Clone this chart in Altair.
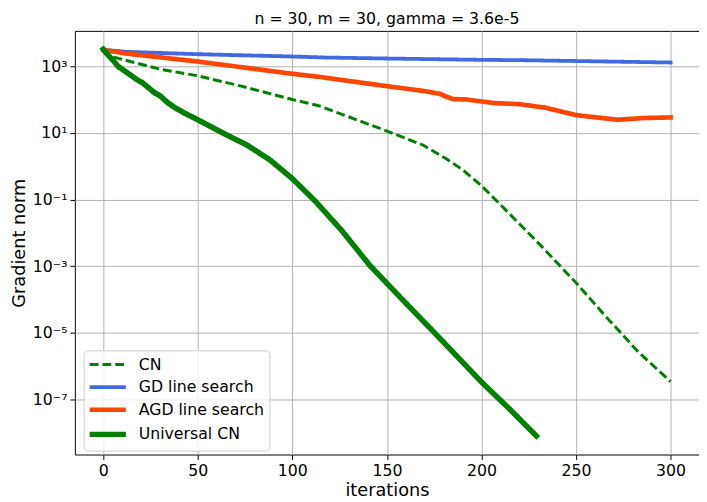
import altair as alt
import pandas as pd

# ---- data ----
cn_iter = [0, 3, 8, 30, 50, 73, 100, 114, 150, 169, 181, 190, 200, 214, 231, 250, 266, 283, 300]
cn_norm = [3162, 2138, 1758, 832, 525, 257, 102, 66.1, 11.5, 4.37, 1.74, 0.794, 0.263,
           0.0417, 4.37e-3, 3.16e-4, 2.95e-5, 2.63e-6, 3.39e-7]

gd_iter = [0, 12, 50, 100, 117, 150, 200, 221, 250, 300]
gd_norm = [3162, 2754, 2344, 1995, 1862, 1738, 1585, 1549, 1462, 1318]

agd_iter = [0, 12, 50, 100, 114, 150, 170, 178, 181, 185, 192, 200, 207, 220, 234, 250, 261, 272, 285, 300]
agd_norm = [3162, 2455, 1413, 603, 490, 257, 182, 151, 126, 105, 102, 89.1, 79.4, 74.1, 57.5,
            34.7, 29.5, 25.1, 28.2, 29.5]

ucn_iter = [0, 2, 5, 8, 12, 18, 21, 27, 30, 34, 38, 43, 50, 64, 76, 88, 100, 112, 126, 141,
            159, 176, 200, 215, 229]
ucn_norm = [3311, 2399, 1585, 1000, 692, 398, 316, 166, 132, 83.2, 57.5, 39.8, 25.1, 9.55, 4.37,
            1.58, 0.427, 0.0912, 0.0120, 1.05e-3, 8.91e-5, 8.91e-6, 3.31e-7, 5.01e-8, 7.94e-9]

series_names = ["CN", "GD line search", "AGD line search", "Universal CN"]
series_colors = ["#008000", "#4169e1", "#ff4500", "#008000"]
series_dash = [[9, 4], [1, 0], [1, 0], [1, 0]]
series_width = [3, 5.5, 5.5, 6]

x_ticks = [0, 50, 100, 150, 200, 250, 300]
y_ticks = [1e-7, 1e-5, 1e-3, 1e-1, 1e1, 1e3]

title_text = "n = 30, m = 30, gamma = 3.6e-5"

rows = []
for name, its, vals in [("CN", cn_iter, cn_norm), ("GD line search", gd_iter, gd_norm),
                        ("AGD line search", agd_iter, agd_norm), ("Universal CN", ucn_iter, ucn_norm)]:
    for i, v in zip(its, vals):
        rows.append({"iteration": i, "norm": v, "method": name})
df = pd.DataFrame(rows)

FONT = "DejaVu Sans"

# a long horizontal stroke as the legend handle (wider than the layout cell)
legend = alt.Legend(
    title=None, orient="none", legendX=9, legendY=325,
    symbolType="M-2.3,0H2.3", symbolSize=256, labelFontSize=16, labelFont=FONT,
    labelColor="black", fillColor="rgba(255,255,255,0.8)", strokeColor="#cccccc",
    cornerRadius=4, padding=5, rowPadding=4.5, symbolOffset=8.5, labelOffset=20.5,
)

x_enc = alt.X(
    "iteration:Q",
    scale=alt.Scale(domain=[-15, 315], nice=False, zero=False),
    axis=alt.Axis(values=x_ticks, title="iterations", orient="bottom", titleY=42,
                  titleBaseline="alphabetic", labelPadding=3),
)
y_enc = alt.Y(
    "norm:Q",
    scale=alt.Scale(type="log", domain=[2.19e-9, 1.175e4], nice=False),
    axis=alt.Axis(
        values=y_ticks, title="Gradient norm", orient="left", titleX=-51,
        titleBaseline="alphabetic", labelPadding=3,
        labelExpr=("datum.value < 1e-6 ? '10⁻⁷' : datum.value < 1e-4 ? '10⁻⁵' : "
                   "datum.value < 1e-2 ? '10⁻³' : datum.value < 1 ? '10⁻¹' : "
                   "datum.value < 100 ? '10¹' : '10³'"),
    ),
)
color_enc = alt.Color("method:N", scale=alt.Scale(domain=series_names, range=series_colors), legend=legend)
dash_enc = alt.StrokeDash("method:N", scale=alt.Scale(domain=series_names, range=series_dash), legend=legend)
width_enc = alt.StrokeWidth("method:N", scale=alt.Scale(domain=series_names, range=series_width), legend=legend)

layers = []
for name, dash in zip(series_names, series_dash):
    cap = "butt" if dash[1] != 0 else "square"
    layers.append(
        alt.Chart(df)
        .transform_filter(alt.datum.method == name)
        .mark_line(strokeCap=cap, strokeJoin="round")
        .encode(x=x_enc, y=y_enc, color=color_enc, strokeDash=dash_enc, strokeWidth=width_enc)
    )

chart = (
    alt.layer(*layers)
    .properties(
        width=635, height=431,
        autosize=alt.AutoSizeParams(type="none"),
        padding={"left": 68, "top": 19, "right": 0, "bottom": 44},
        title=alt.Title(title_text, fontSize=16, font=FONT, fontWeight="normal", anchor="middle",
                        frame="group", offset=7, dy=16, baseline="alphabetic", color="black"),
    )
    .configure_view(stroke="black", strokeWidth=1)
    .configure_axis(
        grid=True, gridColor="#b0b0b0", gridWidth=1, domain=False,
        tickColor="black", tickSize=5, tickWidth=1,
        labelFont=FONT, labelFontSize=16, labelColor="black",
        titleFont=FONT, titleFontSize=18, titleColor="black", titleFontWeight="normal",
    )
)

chart.save("out.html", embed_options={"renderer": "svg", "actions": False})
